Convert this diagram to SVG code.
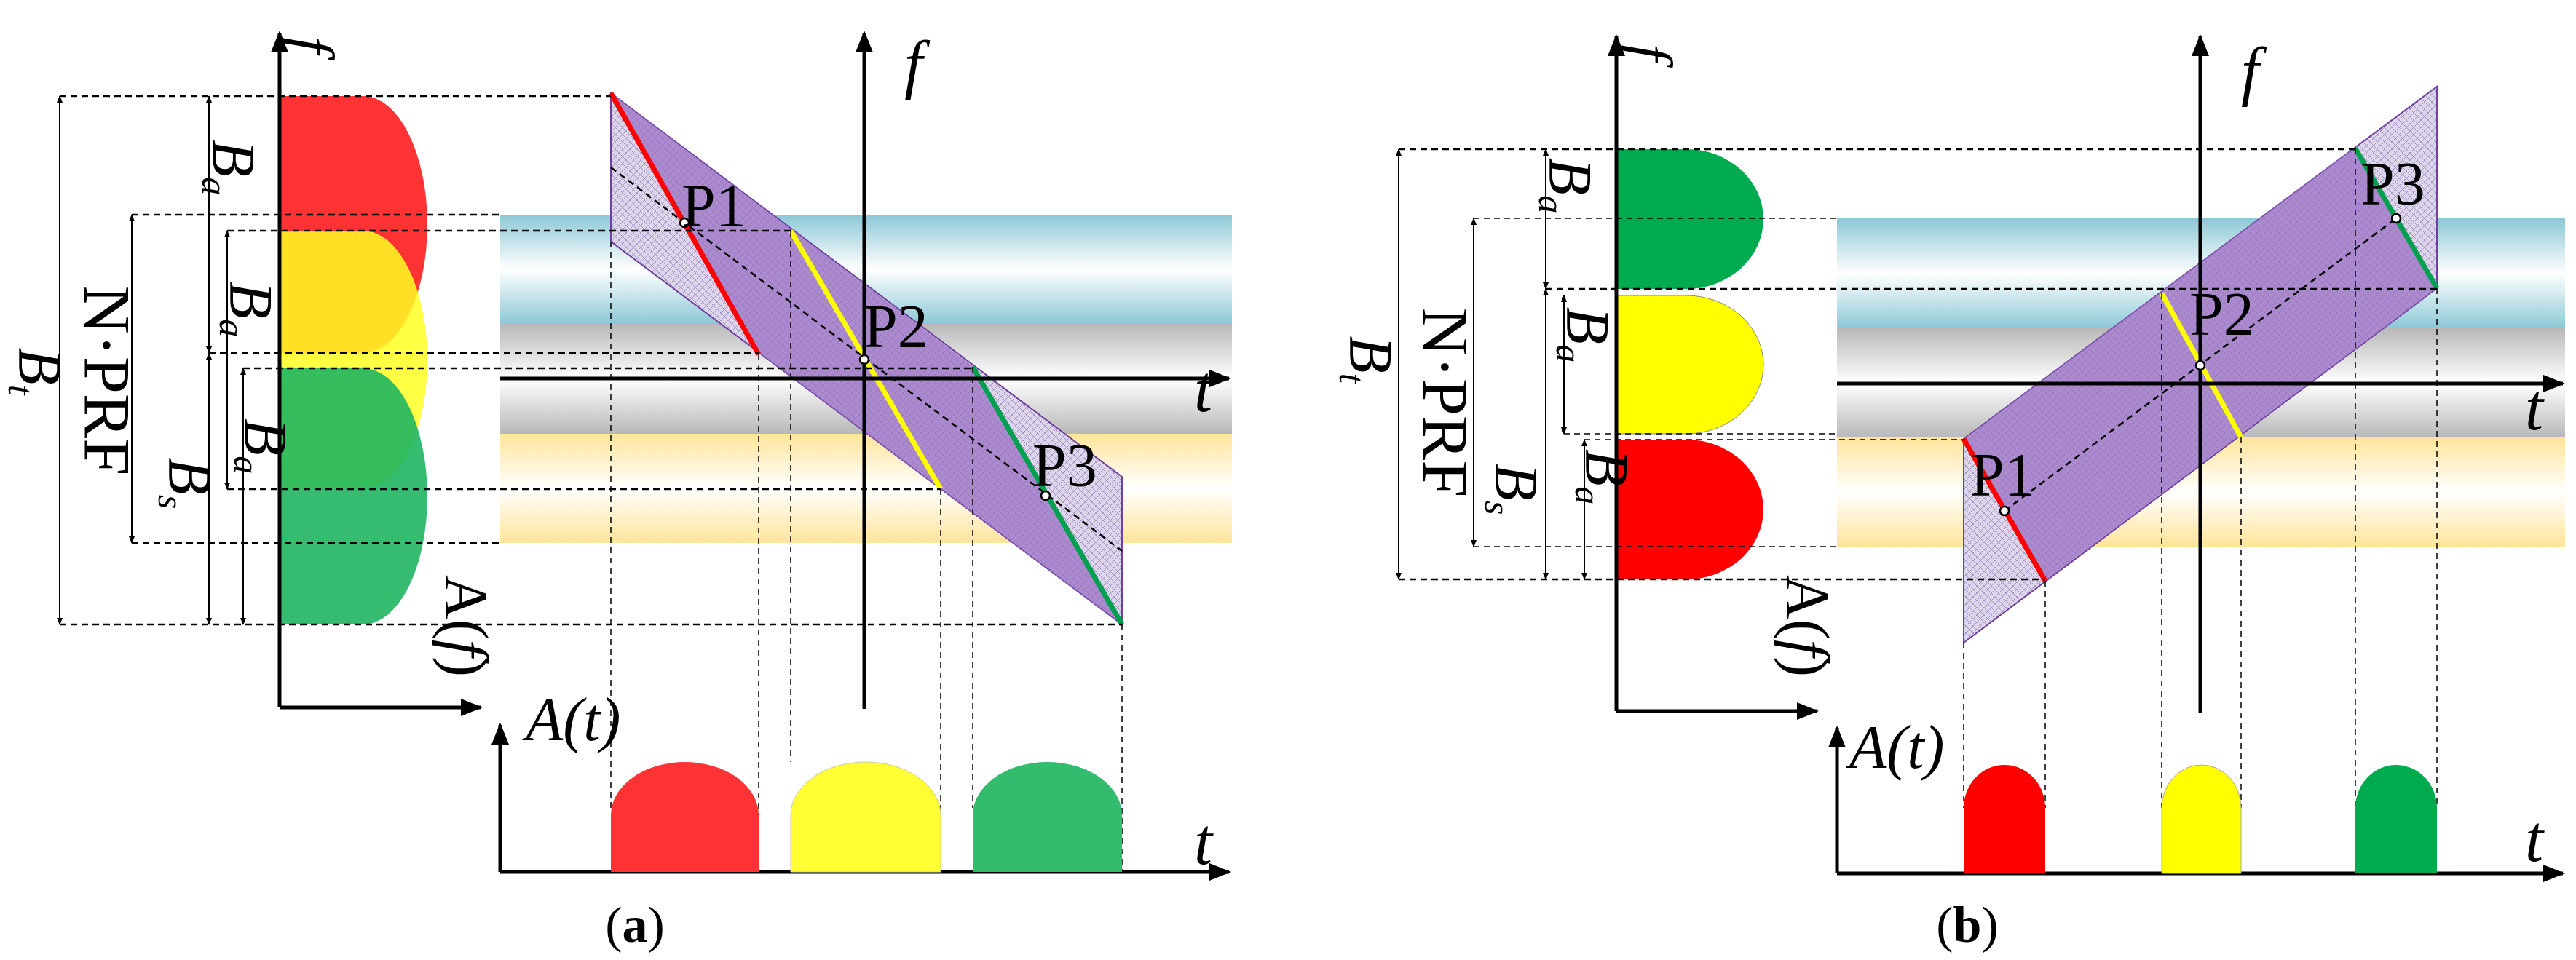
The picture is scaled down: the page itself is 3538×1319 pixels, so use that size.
<svg xmlns="http://www.w3.org/2000/svg" width="3538" height="1319" viewBox="0 0 3538 1319">
<defs>
<marker id="ah" viewBox="0 0 10 10" refX="9" refY="5" markerWidth="6" markerHeight="6" orient="auto-start-reverse"><path d="M0,1 L10,5 L0,9 Z" fill="#000"/></marker>
<marker id="dh" viewBox="0 0 10 10" refX="9" refY="5" markerWidth="14" markerHeight="10" orient="auto-start-reverse" markerUnits="userSpaceOnUse"><path d="M0,1 L10,5 L0,9 Z" fill="#000"/></marker>
<linearGradient id="gB" x1="0" y1="0" x2="0" y2="1"><stop offset="0" stop-color="#8cc8d6"/><stop offset="0.5" stop-color="#fff"/><stop offset="1" stop-color="#8cc8d6"/></linearGradient>
<linearGradient id="gG" x1="0" y1="0" x2="0" y2="1"><stop offset="0" stop-color="#b8b8b8"/><stop offset="0.5" stop-color="#fff"/><stop offset="1" stop-color="#b8b8b8"/></linearGradient>
<linearGradient id="gY" x1="0" y1="0" x2="0" y2="1"><stop offset="0" stop-color="#ffe49a"/><stop offset="0.5" stop-color="#fff"/><stop offset="1" stop-color="#ffe49a"/></linearGradient>
<pattern id="hatch" width="10" height="10" patternUnits="userSpaceOnUse"><rect width="10" height="10" fill="#ddd6ea"/><path d="M0,0 L10,10 M10,0 L0,10" stroke="#a898c8" stroke-width="1"/></pattern>
<style>
.ax{stroke:#000;stroke-width:5;fill:none}
.ds{stroke:#000;stroke-width:2.5;stroke-dasharray:9 6;fill:none}
.dt{stroke:#000;stroke-width:1.5;stroke-dasharray:8 6;fill:none}
.dim{stroke:#000;stroke-width:2;fill:none}
.it{font-style:italic}
.pt{fill:#fff;stroke:#000;stroke-width:2.5}
.para{stroke:#7040a0;stroke-width:2}
text{font-family:"Liberation Serif","DejaVu Serif",serif}
</style>
</defs>
<g id="bandsA">
<rect x="687" y="295" width="1005" height="150" fill="url(#gB)"/>
<rect x="687" y="445" width="1005" height="151" fill="url(#gG)"/>
<rect x="687" y="596" width="1005" height="150" fill="url(#gY)"/>
</g>
<g id="lobesA">
<path d="M384,132 H499 A88,176.5 0 0 1 499,485 H384 Z" fill="#ff3333"/>
<path d="M384,317 H499 A88,177.5 0 0 1 499,672 H384 Z" fill="#ffff22" fill-opacity="0.85"/>
<path d="M384,506 H499 A88,176 0 0 1 499,858 H384 Z" fill="#1fb560" fill-opacity="0.9"/>
</g>
<g id="paraA">
<polygon class="para" points="839,128 1541,655 1541,858 839,332" fill="url(#hatch)"/>
<polygon points="839,128 1336,503 1541,858 1042,484" fill="#9a72c4" fill-opacity="0.75"/>
<line x1="839" y1="128" x2="1042" y2="487" stroke="#ff0000" stroke-width="7"/>
<line x1="1086" y1="317" x2="1292" y2="672" stroke="#ffff00" stroke-width="7"/>
<line x1="1336" y1="504" x2="1541" y2="858" stroke="#00a050" stroke-width="7"/>
<line class="ds" x1="839" y1="230" x2="1541" y2="757"/>
</g>
<g id="connectorsA">
<line class="ds" x1="82" y1="132" x2="839" y2="132"/>
<line class="ds" x1="181" y1="295" x2="687" y2="295"/>
<line class="ds" x1="312" y1="317" x2="1086" y2="317"/>
<line class="ds" x1="287" y1="485" x2="1042" y2="485"/>
<line class="ds" x1="334" y1="506" x2="1336" y2="506"/>
<line class="ds" x1="312" y1="672" x2="1292" y2="672"/>
<line class="ds" x1="181" y1="746" x2="687" y2="746"/>
<line class="ds" x1="82" y1="858" x2="1541" y2="858"/>
<line class="dt" x1="839" y1="332" x2="839" y2="1110"/>
<line class="dt" x1="1042" y1="487" x2="1042" y2="1198"/>
<line class="dt" x1="1086" y1="317" x2="1086" y2="1047"/>
<line class="dt" x1="1292" y1="672" x2="1292" y2="1198"/>
<line class="dt" x1="1336" y1="504" x2="1336" y2="1110"/>
<line class="dt" x1="1541" y1="858" x2="1541" y2="1198"/>
<line class="dim" x1="82" y1="132" x2="82" y2="858" marker-start="url(#dh)" marker-end="url(#dh)"/>
<line class="dim" x1="181" y1="295" x2="181" y2="746" marker-start="url(#dh)" marker-end="url(#dh)"/>
<line class="dim" x1="287" y1="132" x2="287" y2="485" marker-start="url(#dh)" marker-end="url(#dh)"/>
<line class="dim" x1="287" y1="485" x2="287" y2="858" marker-start="url(#dh)" marker-end="url(#dh)"/>
<line class="dim" x1="312" y1="317" x2="312" y2="672" marker-start="url(#dh)" marker-end="url(#dh)"/>
<line class="dim" x1="334" y1="506" x2="334" y2="858" marker-start="url(#dh)" marker-end="url(#dh)"/>
</g>
<g id="axesA">
<line class="ax" x1="384" y1="972" x2="384" y2="45" marker-end="url(#ah)"/>
<line class="ax" x1="384" y1="972" x2="660" y2="972" marker-end="url(#ah)"/>
<line class="ax" x1="1187" y1="974" x2="1187" y2="45" marker-end="url(#ah)"/>
<line class="ax" x1="687" y1="520" x2="1688" y2="520" marker-end="url(#ah)"/>
<line class="ax" x1="687" y1="1198" x2="687" y2="996" marker-end="url(#ah)"/>
<line class="ax" x1="687" y1="1198" x2="1688" y2="1198" marker-end="url(#ah)"/>
</g>
<g id="pulsesA">
<path d="M839,1198 V1120 A101.5,73 0 0 1 1042,1120 V1198 Z" fill="#ff3333"/>
<path d="M1086,1198 V1120 A103,73 0 0 1 1292,1120 V1198 Z" fill="#ffff33" stroke="#cc9" stroke-width="1"/>
<path d="M1336,1198 V1120 A102.5,73 0 0 1 1541,1120 V1198 Z" fill="#33bb6e"/>
</g>
<g id="pointsA">
<circle class="pt" cx="940" cy="306" r="6"/><circle class="pt" cx="1187" cy="494" r="6"/><circle class="pt" cx="1436" cy="681" r="6"/>
</g>
<g id="labelsA" font-family="Liberation Serif, serif" font-size="84">
<text x="936" y="311">P1</text><text x="1186" y="477">P2</text><text x="1418" y="668">P3</text>
<text class="it" x="1640" y="565" font-size="90">t</text>
<text class="it" x="1242" y="119" font-size="90">f</text>
<text class="it" x="1640" y="1187" font-size="90">t</text>
<text class="it" x="722" y="1017" font-size="84">A(t)</text>
<text x="872" y="1294" font-size="70" text-anchor="middle">(<tspan font-weight="bold">a</tspan>)</text>
<text class="it" transform="translate(400,62) rotate(90)" font-size="84" text-anchor="middle">f</text>
<text transform="translate(612,860) rotate(90)" font-size="84" text-anchor="middle">A(<tspan font-style="italic">f</tspan>)</text>
<text transform="translate(116,523) rotate(90)" font-size="92" text-anchor="middle">N·PRF</text>
<text class="it" transform="translate(26,510) rotate(90)" font-size="84" text-anchor="middle">B<tspan font-size="50" dy="14">t</tspan></text>
<text class="it" transform="translate(292,230) rotate(90)" font-size="84" text-anchor="middle">B<tspan font-size="50" dy="14">a</tspan></text>
<text class="it" transform="translate(316,425) rotate(90)" font-size="84" text-anchor="middle">B<tspan font-size="50" dy="14">a</tspan></text>
<text class="it" transform="translate(336,613) rotate(90)" font-size="84" text-anchor="middle">B<tspan font-size="50" dy="14">a</tspan></text>
<text class="it" transform="translate(232,664) rotate(90)" font-size="84" text-anchor="middle">B<tspan font-size="50" dy="14">s</tspan></text>
</g>
<g id="bandsB">
<rect x="2523" y="300" width="1000" height="151" fill="url(#gB)"/>
<rect x="2523" y="451" width="1000" height="150" fill="url(#gG)"/>
<rect x="2523" y="601" width="1000" height="150" fill="url(#gY)"/>
</g>
<g id="lobesB">
<path d="M2220,205 H2316 A106,96 0 0 1 2316,397 H2220 Z" fill="#00aa4f"/>
<path d="M2220,406 H2316 A106,95 0 0 1 2316,596 H2220 Z" fill="#ffff00" stroke="#888" stroke-width="1"/>
<path d="M2220,604 H2316 A106,96 0 0 1 2316,796 H2220 Z" fill="#ff0000"/>
</g>
<g id="paraB">
<polygon class="para" points="2697,603 3347,119 3347,396 2697,883" fill="url(#hatch)"/>
<polygon points="2697,603 3235,202 3347,396 2809,798" fill="#9a72c4" fill-opacity="0.75"/>
<line x1="2697" y1="603" x2="2809" y2="798" stroke="#ff0000" stroke-width="7"/>
<line x1="2969" y1="403" x2="3078" y2="601" stroke="#ffff00" stroke-width="7"/>
<line x1="3235" y1="204" x2="3347" y2="396" stroke="#00a050" stroke-width="7"/>
<line class="ds" x1="2753" y1="702" x2="3291" y2="300"/>
</g>
<g id="connectorsB">
<line class="ds" x1="1921" y1="205" x2="3235" y2="205"/>
<line class="dt" x1="2024" y1="300" x2="2523" y2="300"/>
<line class="ds" x1="2123" y1="397" x2="3347" y2="397"/>
<line class="dt" x1="2148" y1="596" x2="2523" y2="596"/>
<line class="dt" x1="2176" y1="604" x2="2697" y2="604"/>
<line class="dt" x1="2024" y1="751" x2="2523" y2="751"/>
<line class="ds" x1="1921" y1="796" x2="2809" y2="796"/>
<line class="dt" x1="2697" y1="883" x2="2697" y2="1110"/>
<line class="dt" x1="2809" y1="798" x2="2809" y2="1110"/>
<line class="dt" x1="2969" y1="403" x2="2969" y2="1110"/>
<line class="dt" x1="3078" y1="601" x2="3078" y2="1110"/>
<line class="dt" x1="3235" y1="204" x2="3235" y2="1110"/>
<line class="dt" x1="3347" y1="396" x2="3347" y2="1110"/>
<line class="dim" x1="1921" y1="205" x2="1921" y2="796" marker-start="url(#dh)" marker-end="url(#dh)"/>
<line class="dim" x1="2024" y1="300" x2="2024" y2="751" marker-start="url(#dh)" marker-end="url(#dh)"/>
<line class="dim" x1="2123" y1="205" x2="2123" y2="397" marker-start="url(#dh)" marker-end="url(#dh)"/>
<line class="dim" x1="2123" y1="397" x2="2123" y2="796" marker-start="url(#dh)" marker-end="url(#dh)"/>
<line class="dim" x1="2148" y1="406" x2="2148" y2="596" marker-start="url(#dh)" marker-end="url(#dh)"/>
<line class="dim" x1="2176" y1="604" x2="2176" y2="796" marker-start="url(#dh)" marker-end="url(#dh)"/>
</g>
<g id="axesB">
<line class="ax" x1="2220" y1="977" x2="2220" y2="50" marker-end="url(#ah)"/>
<line class="ax" x1="2220" y1="977" x2="2495" y2="977" marker-end="url(#ah)"/>
<line class="ax" x1="3022" y1="979" x2="3022" y2="50" marker-end="url(#ah)"/>
<line class="ax" x1="2523" y1="527" x2="3520" y2="527" marker-end="url(#ah)"/>
<line class="ax" x1="2523" y1="1200" x2="2523" y2="1000" marker-end="url(#ah)"/>
<line class="ax" x1="2523" y1="1200" x2="3520" y2="1200" marker-end="url(#ah)"/>
</g>
<g id="pulsesB">
<path d="M2697,1200 V1110 A56,59 0 0 1 2809,1110 V1200 Z" fill="#ff0000"/>
<path d="M2969,1200 V1110 A54.5,59 0 0 1 3078,1110 V1200 Z" fill="#ffff00" stroke="#aa9" stroke-width="1"/>
<path d="M3235,1200 V1110 A56,59 0 0 1 3347,1110 V1200 Z" fill="#00aa4f"/>
</g>
<g id="pointsB">
<circle class="pt" cx="2753" cy="702" r="6"/><circle class="pt" cx="3022" cy="502" r="6"/><circle class="pt" cx="3291" cy="300" r="6"/>
</g>
<g id="labelsB" font-family="Liberation Serif, serif" font-size="84">
<text x="2706" y="681">P1</text><text x="3007" y="460">P2</text><text x="3242" y="281">P3</text>
<text class="it" x="3468" y="590" font-size="90">t</text>
<text class="it" x="3078" y="128" font-size="90">f</text>
<text class="it" x="3468" y="1183" font-size="90">t</text>
<text class="it" x="2540" y="1055" font-size="84">A(t)</text>
<text x="2702" y="1294" font-size="70" text-anchor="middle">(<tspan font-weight="bold">b</tspan>)</text>
<text class="it" transform="translate(2238,72) rotate(90)" font-size="84" text-anchor="middle">f</text>
<text transform="translate(2454,860) rotate(90)" font-size="84" text-anchor="middle">A(<tspan font-style="italic">f</tspan>)</text>
<text transform="translate(1954,553) rotate(90)" font-size="92" text-anchor="middle">N·PRF</text>
<text class="it" transform="translate(1854,494) rotate(90)" font-size="84" text-anchor="middle">B<tspan font-size="50" dy="14">t</tspan></text>
<text class="it" transform="translate(2128,255) rotate(90)" font-size="84" text-anchor="middle">B<tspan font-size="50" dy="14">a</tspan></text>
<text class="it" transform="translate(2152,460) rotate(90)" font-size="84" text-anchor="middle">B<tspan font-size="50" dy="14">a</tspan></text>
<text class="it" transform="translate(2178,655) rotate(90)" font-size="84" text-anchor="middle">B<tspan font-size="50" dy="14">a</tspan></text>
<text class="it" transform="translate(2054,672) rotate(90)" font-size="84" text-anchor="middle">B<tspan font-size="50" dy="14">s</tspan></text>
</g>
</svg>
